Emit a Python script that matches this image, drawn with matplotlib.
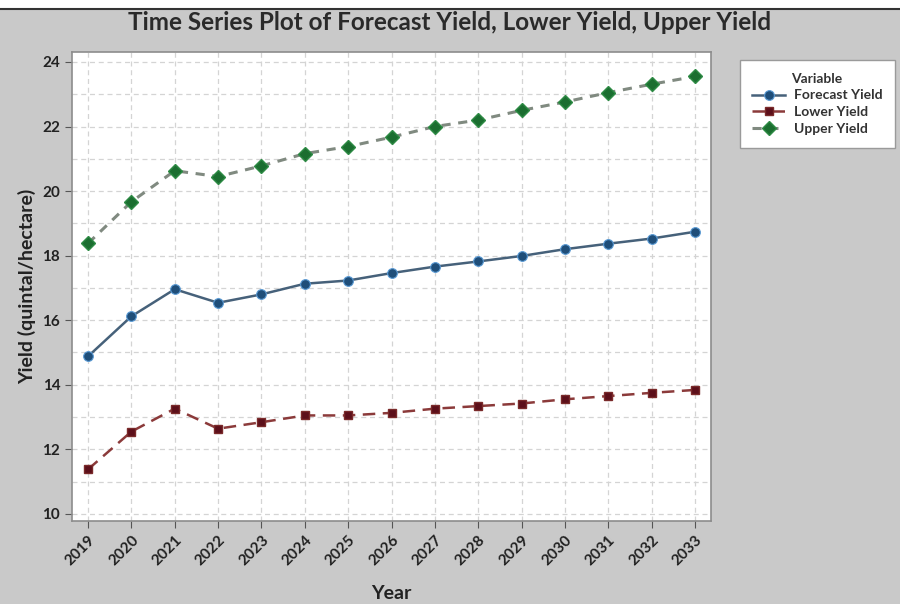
import matplotlib.pyplot as plt
from matplotlib.patches import Rectangle
from matplotlib.lines import Line2D

# data
years = list(range(2019, 2034))
forecast_yield = [14.88, 16.12, 16.96, 16.54, 16.80, 17.13, 17.23, 17.46, 17.66,
                  17.82, 17.99, 18.20, 18.37, 18.53, 18.74]
lower_yield = [11.38, 12.55, 13.26, 12.64, 12.84, 13.05, 13.05, 13.13, 13.26,
               13.34, 13.42, 13.55, 13.65, 13.75, 13.84]
upper_yield = [18.38, 19.67, 20.63, 20.45, 20.78, 21.16, 21.38, 21.67, 22.00,
               22.20, 22.50, 22.76, 23.05, 23.31, 23.55]
y_ticks = [10, 12, 14, 16, 18, 20, 22, 24]

plt.rcParams['font.family'] = ['Lato', 'DejaVu Sans']

BG = '#c9c9c9'
fig = plt.figure(figsize=(9, 6.04), dpi=100)
fig.patch.set_facecolor(BG)

# white strip and dark rule along the top edge
fig.patches.append(Rectangle((0, 0.985), 1, 0.015, transform=fig.transFigure,
                             facecolor='white', edgecolor='none', zorder=0))
fig.add_artist(Line2D([0, 1], [0.985, 0.985], transform=fig.transFigure,
                      color='#333333', linewidth=1.5))

ax = fig.add_axes([0.08, 0.1374, 0.71, 0.7766])
ax.set_facecolor('white')

ax.plot(years, forecast_yield, '-', color='#46617a', linewidth=1.8,
        marker='o', markersize=7, markerfacecolor='#1f4e79',
        markeredgecolor='#5b9bd5', markeredgewidth=0.8, label='Forecast Yield', zorder=3)
ax.plot(years, lower_yield, '--', color='#8b3a3a', linewidth=1.8, dashes=(5, 3),
        marker='s', markersize=5.5, markerfacecolor='#5c0f1a',
        markeredgecolor='#7a2a2a', label='Lower Yield', zorder=3)
ax.plot(years, upper_yield, '--', color='#808a80', linewidth=2.2, dashes=(3, 2.5),
        marker='D', markersize=7, markerfacecolor='#1b6e30',
        markeredgecolor='#2e8b45', label='Upper Yield', zorder=3)

ax.set_xlim(2018.63, 2033.37)
ax.set_ylim(9.78, 24.31)
ax.set_xticks(years)
ax.set_xticklabels([str(y) for y in years], rotation=45, ha='right',
                   rotation_mode='anchor', fontsize=11, fontweight='bold', color='#222222')
ax.set_yticks(y_ticks)
ax.set_yticklabels([str(v) for v in y_ticks], fontsize=11, fontweight='bold', color='#222222')
ax.set_yticks(range(10, 25), minor=True)
ax.tick_params(axis='both', direction='out', length=5, color='#555555')
ax.tick_params(axis='y', which='minor', length=0)

ax.grid(True, which='both', linestyle=(0, (4, 3)), color='#d4d4d4', linewidth=0.9, zorder=0)
ax.set_axisbelow(True)
for sp in ax.spines.values():
    sp.set_color('#8c8c8c')
    sp.set_linewidth(1.2)

ax.set_xlabel('Year', fontsize=14, fontweight='bold', color='#222222', labelpad=12)
ax.set_ylabel('Yield (quintal/hectare)', fontsize=14, fontweight='bold', color='#222222',
              labelpad=4)
fig.text(0.5, 0.963, 'Time Series Plot of Forecast Yield, Lower Yield, Upper Yield',
         ha='center', va='center', fontsize=17.5, fontweight='bold', color='#2a2a2a')

leg = ax.legend(title='Variable', loc='upper left', bbox_to_anchor=(0.814, 0.912),
                bbox_transform=fig.transFigure, fontsize=10, title_fontsize=10,
                frameon=True, fancybox=False, edgecolor='#9a9a9a', facecolor='white',
                handlelength=2.4, handletextpad=0.6, borderpad=0.9, labelspacing=0.35,
                framealpha=1)
leg.get_title().set_fontweight('bold')
leg.get_title().set_color('#333333')
for t in leg.get_texts():
    t.set_fontweight('bold')
    t.set_color('#333333')
leg._legend_box.align = 'center'

fig.savefig('out.png', dpi=100, facecolor=BG)
